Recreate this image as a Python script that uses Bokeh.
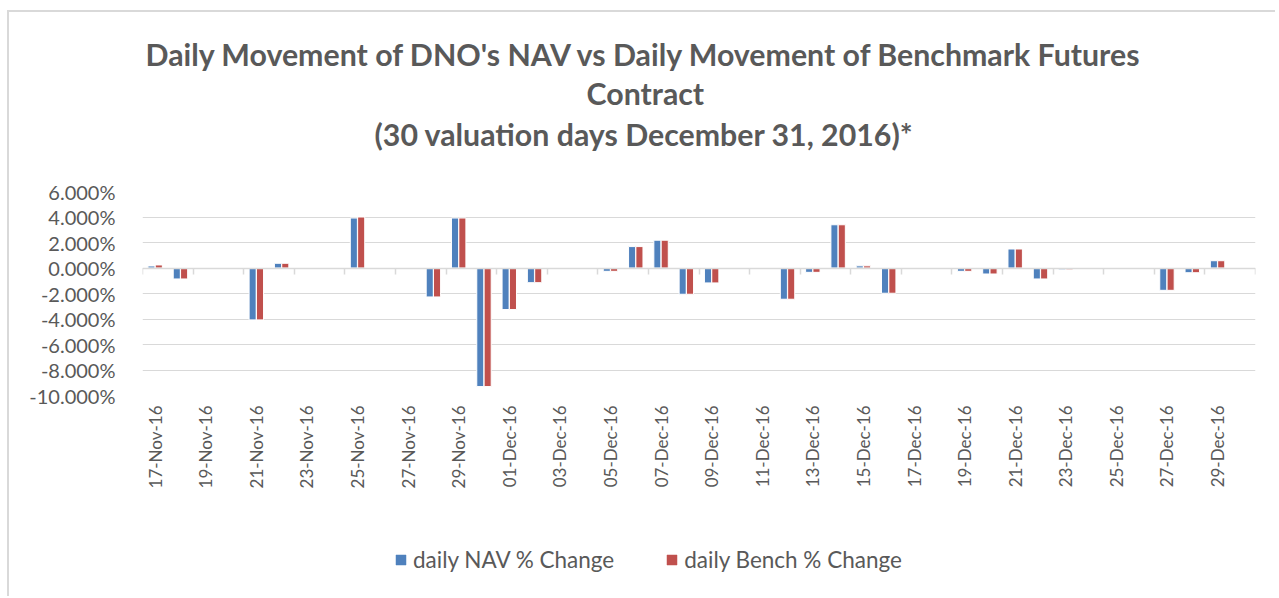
import pandas as pd
from bokeh.plotting import figure
from bokeh.layouts import column
from bokeh.models import (FixedTicker, DatetimeTickFormatter, PrintfTickFormatter, DatetimeAxis,
                          Range1d, Legend, LegendItem, Title, ColumnDataSource)
from bokeh.transform import dodge
from bokeh.embed import file_html
from bokeh.resources import INLINE

# ---- data (percent) ----
dates = ["2016-11-17", "2016-11-18", "2016-11-21", "2016-11-22", "2016-11-25", "2016-11-28",
         "2016-11-29", "2016-11-30", "2016-12-01", "2016-12-02", "2016-12-05", "2016-12-06",
         "2016-12-07", "2016-12-08", "2016-12-09", "2016-12-12", "2016-12-13", "2016-12-14",
         "2016-12-15", "2016-12-16", "2016-12-19", "2016-12-20", "2016-12-21", "2016-12-22",
         "2016-12-23", "2016-12-27", "2016-12-28", "2016-12-29"]
nav_change = [0.16, -0.86, -4.07, 0.37, 3.92, -2.27, 3.92, -9.30, -3.26, -1.15, -0.26, 1.68,
              2.18, -2.06, -1.17, -2.45, -0.34, 3.39, 0.17, -1.98, -0.26, -0.47, 1.49, -0.86,
              -0.14, -1.75, -0.37, 0.57]
bench_change = [0.24, -0.86, -4.07, 0.37, 4.00, -2.27, 3.92, -9.30, -3.26, -1.15, -0.26, 1.68,
                2.18, -2.06, -1.17, -2.45, -0.34, 3.39, 0.17, -1.98, -0.26, -0.47, 1.49, -0.86,
                -0.14, -1.75, -0.37, 0.57]
y_ticks = [-10, -8, -6, -4, -2, 0, 2, 4, 6]
label_dates = pd.date_range("2016-11-17", "2016-12-29", freq="2D")
title_lines = ["Daily Movement of DNO's NAV vs Daily Movement of Benchmark Futures",
               "Contract",
               "(30 valuation days December 31, 2016)*"]
series_names = ["daily NAV % Change", "daily Bench % Change"]
colors = ["#4F81BD", "#C0504D"]
value_cols = ["nav", "bench"]

DAY = 86400000.0
TXT = "#595959"
GRID = "#d9d9d9"
FONT = "Lato"

src = ColumnDataSource(dict(date=pd.to_datetime(dates), nav=nav_change, bench=bench_change))

x_start = pd.Timestamp("2016-11-16 12:00")
x_end = pd.Timestamp("2016-12-30 12:00")

p = figure(width=1266, height=528, output_backend="svg", toolbar_location=None,
           x_axis_type="datetime",
           x_range=Range1d(x_start, x_end), y_range=Range1d(-10, 6),
           min_border_left=133, min_border_right=20, min_border_top=179, min_border_bottom=145)
p.outline_line_color = None
p.background_fill_color = "white"
p.border_fill_color = "white"

for col, c, shift in zip(value_cols, colors, [-0.145, 0.145]):
    p.vbar(x=dodge("date", shift * DAY, range=p.x_range), top=col, bottom=0,
           width=0.28 * DAY, source=src, fill_color=c, line_color="white", line_width=1)

# y axis
p.yaxis.ticker = FixedTicker(ticks=y_ticks)
p.yaxis.formatter = PrintfTickFormatter(format="%.3f%%")
p.yaxis.axis_line_color = None
p.yaxis.major_tick_line_color = None
p.yaxis.minor_tick_line_color = None
p.yaxis.major_label_text_font = FONT
p.yaxis.major_label_text_font_size = "20px"
p.yaxis.major_label_text_color = TXT
p.yaxis.major_label_standoff = 21

p.ygrid.ticker = FixedTicker(ticks=y_ticks)
p.ygrid.grid_line_color = GRID
p.ygrid.grid_line_width = 1
p.xgrid.grid_line_color = None

# x labels axis (low)
fmt = "%d-%b-%y"
p.xaxis.ticker = FixedTicker(ticks=[d.value / 1e6 for d in label_dates])
p.xaxis.formatter = DatetimeTickFormatter(days=fmt, months=fmt, years=fmt, hours=fmt,
                                          hourmin=fmt, minutes=fmt, minsec=fmt, seconds=fmt,
                                          milliseconds=fmt, microseconds=fmt)
p.xaxis.major_label_orientation = 3.14159265 / 2
p.xaxis.axis_line_color = None
p.xaxis.major_tick_line_color = None
p.xaxis.minor_tick_line_color = None
p.xaxis.major_label_text_font = FONT
p.xaxis.major_label_text_font_size = "17px"
p.xaxis.major_label_text_color = TXT
p.xaxis.major_label_standoff = 4

# zero line axis with boundary tick marks
bounds = [(d - pd.Timedelta(hours=12)).value / 1e6 for d in label_dates] + [x_end.value / 1e6]
zaxis = DatetimeAxis(fixed_location=0, ticker=FixedTicker(ticks=bounds))
zaxis.axis_line_color = GRID
zaxis.axis_line_width = 1.5
zaxis.major_tick_line_color = GRID
zaxis.major_tick_line_width = 1.5
zaxis.major_tick_out = 6
zaxis.major_tick_in = 0
zaxis.minor_tick_line_color = None
zaxis.major_label_text_font_size = "0px"
zaxis.major_label_text_alpha = 0
p.add_layout(zaxis, "below")

# titles (closest to frame first), left-aligned with offsets to centre them on the chart
p.add_layout(Title(text=" ", text_font_size="32px", standoff=0), "above")
title_offsets = [3, 444, 232]
title_standoffs = [1, 1, 4]
for line, off, so in reversed(list(zip(title_lines, title_offsets, title_standoffs))):
    p.add_layout(Title(text=line, align="left", text_font=FONT, text_font_size="30.3px",
                       text_font_style="bold", text_color=TXT, offset=off, standoff=so), "above")

# legend strip underneath
p2 = figure(width=1266, height=56, output_backend="svg", toolbar_location=None,
            x_range=Range1d(0, 1), y_range=Range1d(0, 1),
            min_border_left=0, min_border_right=0, min_border_top=0, min_border_bottom=0)
p2.axis.visible = False
p2.grid.visible = False
p2.outline_line_color = None
p2.border_fill_color = "white"
lr = [p2.scatter(x="date", y=col, marker="square", size=10, source=src,
                 fill_color=c, line_color=c, line_width=0.5)
      for col, c in zip(value_cols, colors)]
legend = Legend(items=[LegendItem(label=n, renderers=[r]) for n, r in zip(series_names, lr)],
                orientation="horizontal", location=(246, 23),
                glyph_width=25, glyph_height=25, label_standoff=-3, spacing=45,
                padding=0, margin=0, border_line_alpha=0, background_fill_alpha=0,
                label_text_font=FONT, label_text_font_size="22.5px", label_text_color=TXT)
p2.add_layout(legend)

layout = column(p, p2, spacing=0,
                styles={"border-left": "2px solid #d9d9d9", "border-top": "2px solid #d9d9d9",
                        "margin-top": "10px", "position": "relative", "left": "7px"})
open("out.html", "w").write(file_html(layout, INLINE))
